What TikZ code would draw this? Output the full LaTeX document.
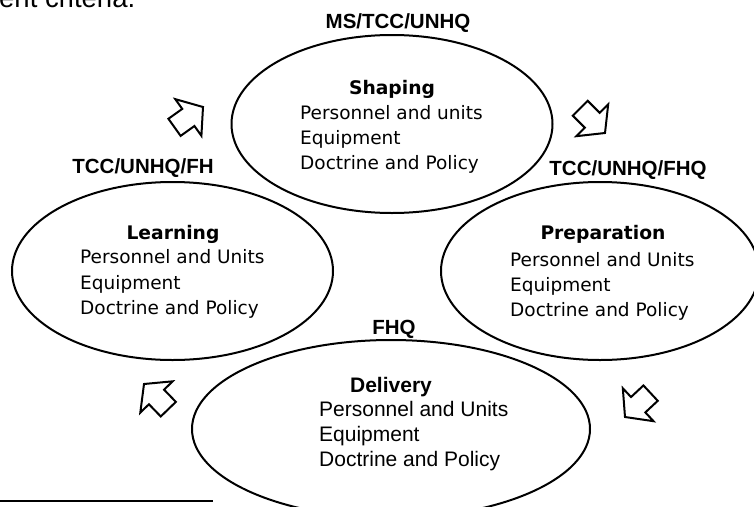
\documentclass[tikz,border=0pt]{standalone}
\usepackage{fontspec}
\setmainfont{Liberation Sans}
\newfontfamily\verd{DejaVu Sans}
\newfontfamily\arialf{Liberation Sans}
\usetikzlibrary{shapes.geometric}
\tikzset{
  ell/.style={draw, ellipse, line width=2pt, inner sep=0pt},
  lab/.style={font=\arialf\bfseries\fontsize{20.5}{24}\selectfont, anchor=base, inner sep=0pt},
  vtitle/.style={font=\verd\bfseries\fontsize{18.7}{25}\selectfont, anchor=base, inner sep=0pt},
  vbody/.style={font=\verd\fontsize{18.5}{25}\selectfont, anchor=base west, inner sep=0pt},
  atitle/.style={font=\arialf\bfseries\fontsize{21}{25}\selectfont, anchor=base, inner sep=0pt},
  abody/.style={font=\arialf\fontsize{21}{25}\selectfont, anchor=base west, inner sep=0pt},
  barrow/.style={draw, line width=2pt, line join=miter},
}
\newcommand{\blockarrowat}[3]{%
  \draw[barrow, shift={(#1,#2)}, rotate=#3]
    (0,0) -- (-18,22.5) -- (-18,10.5) -- (-35,10.5) -- (-35,-10.5) -- (-18,-10.5) -- (-18,-22.5) -- cycle;}
\begin{document}
\begin{tikzpicture}[x=1pt,y=1pt]
\useasboundingbox (0,0) rectangle (754,-506);
\begin{scope}
\clip (0,0) rectangle (754,-506);
% cut-off body text above
\node[font=\arialf\fontsize{27.5}{30}\selectfont, anchor=base west, inner sep=0pt] (crit) at (-1,-7) {ent criteria.};
% ellipses
\node[ell, minimum width=321pt, minimum height=178pt] (shaping) at (392,-124) {};
\node[ell, minimum width=321pt, minimum height=178pt] (learning) at (172.5,-271) {};
\node[ell, minimum width=318pt, minimum height=178pt] (preparation) at (600,-271) {};
\node[ell, minimum width=398pt, minimum height=178pt] (delivery) at (391,-429) {};
% footnote rule
\coordinate (fa) at (0,-501);
\coordinate (fb) at (213,-501);
\draw[line width=2pt] (fa) -- (fb);
\end{scope}
% labels
\node[lab] (l1) at (398,-28) {MS/TCC/UNHQ};
\node[lab] (l2) at (143,-173) {TCC/UNHQ/FH};
\node[lab] (l3) at (628,-175) {TCC/UNHQ/FHQ};
\node[lab] (l4) at (394,-334) {FHQ};
% Shaping
\node[vtitle] (s0) at (392,-94) {Shaping};
\node[vbody] (s1) at (300,-119) {Personnel and units};
\node[vbody] (s2) at (300,-144) {Equipment};
\node[vbody] (s3) at (300,-169) {Doctrine and Policy};
% Learning
\node[vtitle] (g0) at (173,-239) {Learning};
\node[vbody] (g1) at (80,-263) {Personnel and Units};
\node[vbody] (g2) at (80,-289) {Equipment};
\node[vbody] (g3) at (80,-314) {Doctrine and Policy};
% Preparation
\node[vtitle] (p0) at (603,-239) {Preparation};
\node[vbody] (p1) at (510,-266) {Personnel and Units};
\node[vbody] (p2) at (510,-291) {Equipment};
\node[vbody] (p3) at (510,-316) {Doctrine and Policy};
% Delivery
\node[atitle] (d0) at (391,-392) {Delivery};
\node[abody] (d1) at (319,-416) {Personnel and Units};
\node[abody] (d2) at (319,-441) {Equipment};
\node[abody] (d3) at (319,-466) {Doctrine and Policy};
% block arrows
\blockarrowat{203}{-107}{35.5}
\blockarrowat{605}{-133}{-45}
\blockarrowat{625}{-417}{223}
\blockarrowat{144}{-384}{134}
\end{tikzpicture}
\end{document}
